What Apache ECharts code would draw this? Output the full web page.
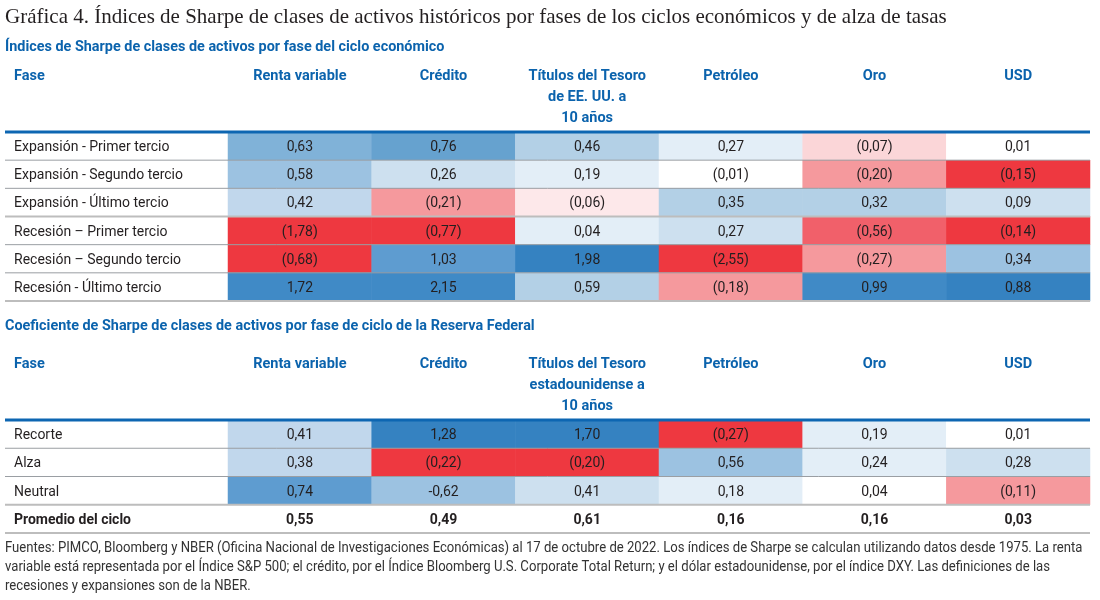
<!DOCTYPE html>
<html>
<head>
<meta charset="utf-8">
<script src="https://cdn.jsdelivr.net/npm/echarts@6/dist/echarts.min.js"></script>
<style>
  html, body { margin: 0; padding: 0; background: #fff; }
  #chart { width: 1100px; height: 600px; }
</style>
</head>
<body>
<div id="chart"></div>
<script>
// --- data -------------------------------------------------------------
var HEADERS_CYCLE = ['Renta variable', 'Crédito', 'Títulos del Tesoro\nde EE. UU. a\n10 años', 'Petróleo', 'Oro', 'USD'];
var HEADERS_FED = ['Renta variable', 'Crédito', 'Títulos del Tesoro\nestadounidense a\n10 años', 'Petróleo', 'Oro', 'USD'];

var PHASES_CYCLE = [
  'Expansión - Primer tercio',
  'Expansión - Segundo tercio',
  'Expansión - Último tercio',
  'Recesión – Primer tercio',
  'Recesión – Segundo tercio',
  'Recesión - Último tercio'
];
var PHASES_FED = ['Recorte', 'Alza', 'Neutral', 'Promedio del ciclo'];
var TOTAL_ROW = 'Promedio del ciclo';

// one row per phase, one value per asset class
var SHARPE_CYCLE = [
  [0.63, 0.76, 0.46, 0.27, -0.07, 0.01],
  [0.58, 0.26, 0.19, -0.01, -0.20, -0.15],
  [0.42, -0.21, -0.06, 0.35, 0.32, 0.09],
  [-1.78, -0.77, 0.04, 0.27, -0.56, -0.14],
  [-0.68, 1.03, 1.98, -2.55, -0.27, 0.34],
  [1.72, 2.15, 0.59, -0.18, 0.99, 0.88]
];
var SHARPE_FED = [
  [0.41, 1.28, 1.70, -0.27, 0.19, 0.01],
  [0.38, -0.22, -0.20, 0.56, 0.24, 0.28],
  [0.74, -0.62, 0.41, 0.18, 0.04, -0.11],
  [0.55, 0.49, 0.61, 0.16, 0.16, 0.03]
];
// cells that the source prints with a minus sign instead of brackets [row, col]
var MINUS_CELLS_FED = [[2, 1]];

var FOOTNOTE = [
  'Fuentes: PIMCO, Bloomberg y NBER (Oficina Nacional de Investigaciones Económicas) al 17 de octubre de 2022. Los índices de Sharpe se calculan utilizando datos desde 1975. La renta',
  'variable está representada por el Índice S&P 500; el crédito, por el Índice Bloomberg U.S. Corporate Total Return; y el dólar estadounidense, por el índice DXY. Las definiciones de las',
  'recesiones y expansiones son de la NBER.'
];

// --- styling ----------------------------------------------------------
var FONT = 'Roboto, "Liberation Sans", sans-serif';
var SERIF = '"Liberation Serif", "DejaVu Serif", serif';
var BLUE = '#0b63ad';
var INK = '#231f20';

var SHADE = {
  B6: '#3582c1', B5: '#408ac6', B4: '#5e9cd0', B3: '#66a2cf', B2: '#80b2d8', B1: '#9cc2e1',
  L4: '#b3d0e6', L3: '#c1d7ec', L2: '#cde0ef', L1: '#e3eef7', W: '#ffffff',
  P1: '#fde8ea', P2: '#fbd6d8', P3: '#f5999d', P4: '#f1606a', R: '#ee3840'
};
var FILL_CYCLE = [
  ['B2', 'B3', 'L4', 'L1', 'P2', 'W'],
  ['B1', 'L2', 'L1', 'W', 'P3', 'R'],
  ['L3', 'P3', 'P1', 'L4', 'L4', 'L2'],
  ['R', 'R', 'L1', 'L2', 'P4', 'R'],
  ['R', 'B4', 'B6', 'R', 'P3', 'B1'],
  ['B5', 'B5', 'L4', 'P3', 'B5', 'B6']
];
var FILL_FED = [
  ['L3', 'B6', 'B6', 'R', 'L1', 'W'],
  ['L3', 'R', 'R', 'B1', 'L1', 'L2'],
  ['B4', 'B1', 'L2', 'L1', 'W', 'P3'],
  ['W', 'W', 'W', 'W', 'W', 'W']
];

var TABLE_LEFT = 5;
var TABLE_RIGHT = 1090;
var CELLS_LEFT = 228;
var T1_TOP = 132, T1_BOTTOM = 301;
var T2_TOP = 420, T2_BOTTOM = 533;

function fmt(v, minus) {
  var s = Math.abs(v).toFixed(2).replace('.', ',');
  if (v < 0) return minus ? '-' + s : '(' + s + ')';
  return s;
}

function isMinus(list, r, c) {
  return list.some(function (p) { return p[0] === r && p[1] === c; });
}

function cells(values, fills, phases, minusList) {
  var out = [];
  values.forEach(function (row, r) {
    row.forEach(function (v, c) {
      var total = phases[r] === TOTAL_ROW;
      out.push({
        value: [c, r, v],
        itemStyle: { color: SHADE[fills[r][c]] },
        label: {
          formatter: fmt(v, isMinus(minusList, r, c)),
          fontWeight: total ? 'bold' : 'normal'
        }
      });
    });
  });
  return out;
}

function xAxis(grid, headers) {
  return {
    type: 'category', gridIndex: grid, data: headers, position: 'top',
    axisLine: { show: false }, axisTick: { show: false }, splitLine: { show: false },
    axisLabel: {
      interval: 0, margin: 66, verticalAlign: 'top', lineHeight: 21,
      color: BLUE, fontWeight: 'bold', fontSize: 14.5, fontFamily: FONT
    }
  };
}

function yAxis(grid, phases) {
  return {
    type: 'category', gridIndex: grid, data: phases, inverse: true,
    axisLine: { show: false }, axisTick: { show: false }, splitLine: { show: false },
    axisLabel: {
      interval: 0, align: 'left', margin: CELLS_LEFT - 14, padding: [3, 0, 0, 0],
      color: INK, fontSize: 14, fontFamily: FONT,
      formatter: function (v) { return v === TOTAL_ROW ? '{b|' + v + '}' : v; },
      rich: { b: { fontWeight: 'bold', fontSize: 14, fontFamily: FONT, color: INK } }
    }
  };
}

function hline(y, x1, color, width) {
  return {
    type: 'line', z: 100,
    shape: { x1: x1, y1: y, x2: TABLE_RIGHT, y2: y },
    style: { stroke: color, lineWidth: width }
  };
}

function text(x, y, str, style, scaleX) {
  return {
    type: 'text', x: x, y: y, scaleX: scaleX || 1, z: 100,
    style: Object.assign({ text: str, verticalAlign: 'middle', align: 'left' }, style)
  };
}

function rowRules(top, bottom, n, heavyAfter) {
  var h = (bottom - top) / n;
  var out = [hline(top, TABLE_LEFT, '#0d66b2', 3)];
  for (var i = 1; i <= n; i++) {
    var y = top + i * h;
    var heavy = i === n || heavyAfter.indexOf(i) >= 0;
    out.push(heavy ? hline(y, TABLE_LEFT, '#bdbdbd', 2) : hline(y, TABLE_LEFT, '#9a9ea3', 1));
  }
  return out;
}

var graphics = [
  text(5, 17, 'Gráfica 4. Índices de Sharpe de clases de activos históricos por fases de los ciclos económicos y de alza de tasas',
    { fontFamily: SERIF, fontSize: 21, fill: INK }),
  text(5, 47, 'Índices de Sharpe de clases de activos por fase del ciclo económico',
    { fontFamily: FONT, fontSize: 15, fontWeight: 'bold', fill: BLUE }, 0.96),
  text(14, 76.5, 'Fase', { fontFamily: FONT, fontSize: 14.5, fontWeight: 'bold', fill: BLUE }),
  text(5, 326, 'Coeficiente de Sharpe de clases de activos por fase de ciclo de la Reserva Federal',
    { fontFamily: FONT, fontSize: 15, fontWeight: 'bold', fill: BLUE }, 0.96),
  text(14, 364.5, 'Fase', { fontFamily: FONT, fontSize: 14.5, fontWeight: 'bold', fill: BLUE })
];
graphics = graphics.concat(rowRules(T1_TOP, T1_BOTTOM, PHASES_CYCLE.length, [3]));
graphics = graphics.concat(rowRules(T2_TOP, T2_BOTTOM, PHASES_FED.length, [3]));
FOOTNOTE.forEach(function (line, i) {
  graphics.push(text(5, 548 + i * 19, line, { fontFamily: FONT, fontSize: 15, fill: '#333' }, 0.875));
});

var labelStyle = { show: true, color: INK, fontSize: 14, fontFamily: FONT, offset: [0, 1.5] };

var option = {
  backgroundColor: '#fff',
  animation: false,
  textStyle: { fontFamily: FONT },
  grid: [
    { left: CELLS_LEFT, right: 1100 - TABLE_RIGHT, top: T1_TOP, height: T1_BOTTOM - T1_TOP },
    { left: CELLS_LEFT, right: 1100 - TABLE_RIGHT, top: T2_TOP, height: T2_BOTTOM - T2_TOP }
  ],
  xAxis: [xAxis(0, HEADERS_CYCLE), xAxis(1, HEADERS_FED)],
  yAxis: [yAxis(0, PHASES_CYCLE), yAxis(1, PHASES_FED)],
  series: [
    {
      type: 'heatmap', xAxisIndex: 0, yAxisIndex: 0,
      label: labelStyle,
      emphasis: { disabled: true },
      data: cells(SHARPE_CYCLE, FILL_CYCLE, PHASES_CYCLE, [])
    },
    {
      type: 'heatmap', xAxisIndex: 1, yAxisIndex: 1,
      label: labelStyle,
      emphasis: { disabled: true },
      data: cells(SHARPE_FED, FILL_FED, PHASES_FED, MINUS_CELLS_FED)
    }
  ],
  graphic: graphics
};

var chart = echarts.init(document.getElementById('chart'), null, { renderer: 'canvas' });
chart.setOption(option);
</script>
</body>
</html>
